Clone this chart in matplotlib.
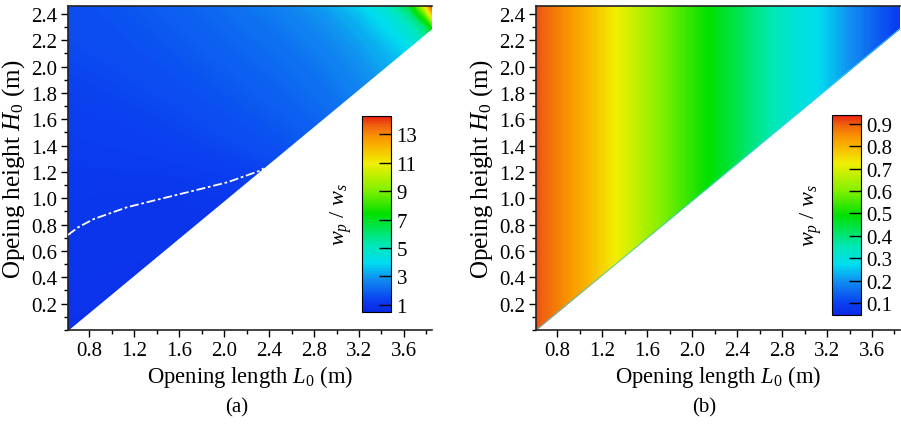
import numpy as np
import matplotlib
matplotlib.use("Agg")
import matplotlib.pyplot as plt
from matplotlib.colors import LinearSegmentedColormap, Normalize
from matplotlib.cm import ScalarMappable
from matplotlib.ticker import MultipleLocator

plt.rcParams['font.family'] = ['Liberation Serif', 'DejaVu Serif']
plt.rcParams['mathtext.fontset'] = 'custom'
plt.rcParams['mathtext.rm'] = 'Liberation Serif'
plt.rcParams['mathtext.it'] = 'Liberation Serif:italic'

# grid nodes (panel a)
L_a = [0.61, 1.0, 1.5, 2.0, 2.5, 2.9, 3.2, 3.45, 3.65, 3.78, 3.85]
H_a = [0.0, 0.6, 1.0, 1.4, 1.8, 2.1, 2.3, 2.4, 2.46]
ratio_a = [
    [0.85, 0.84, 0.85, 0.88, 0.92, 1.00, 1.05, 1.10, 1.15, 1.20, 1.20],
    [0.97, 0.93, 0.92, 0.95, 1.00, 1.10, 1.20, 1.30, 1.40, 1.50, 1.50],
    [1.06, 1.03, 1.00, 1.04, 1.20, 1.40, 1.60, 1.80, 1.90, 2.00, 2.00],
    [1.20, 1.24, 1.33, 1.48, 1.68, 1.92, 2.20, 2.45, 2.70, 2.90, 3.00],
    [1.36, 1.43, 1.56, 1.75, 2.00, 2.28, 2.60, 2.95, 3.30, 3.60, 3.80],
    [1.48, 1.56, 1.72, 1.95, 2.22, 2.55, 2.95, 3.40, 3.90, 4.50, 5.00],
    [1.55, 1.64, 1.82, 2.08, 2.40, 2.80, 3.30, 4.00, 4.90, 6.00, 7.50],
    [1.58, 1.68, 1.87, 2.15, 2.50, 2.95, 3.55, 4.40, 5.80, 8.50, 12.0],
    [1.60, 1.70, 1.90, 2.20, 2.60, 3.10, 3.80, 4.90, 6.60, 10.5, 14.0],
]

# white dash-dot curve in panel a
curve_L = [0.61, 0.70, 0.84, 1.135, 1.43, 1.73, 2.03, 2.32, 2.35]
curve_H = [0.722, 0.78, 0.843, 0.932, 0.995, 1.058, 1.122, 1.21, 1.228]

# panel b: ratio varies along the opening length
L_b = [0.61, 0.83, 1.10, 1.27, 1.53, 1.80, 2.07, 2.33, 2.60, 2.87, 3.13, 3.40, 3.67, 3.85]
H_b = [0.0, 2.46]
ratio_b = [0.91, 0.86, 0.79, 0.74, 0.66, 0.58, 0.51, 0.45, 0.38, 0.32, 0.27, 0.20, 0.13, 0.09]

# lower edge of the valid region (H0 limited by L0)
bound_L = [0.61, 3.85]
bound_H = [0.0, 2.29]

ticks_a = [1, 3, 5, 7, 9, 11, 13]
ticks_b = [0.1, 0.2, 0.3, 0.4, 0.5, 0.6, 0.7, 0.8, 0.9]

cmap = LinearSegmentedColormap.from_list("origin_rainbow", [
    (0.00, "#0a28e6"), (0.06, "#0a40f0"), (0.17, "#1090f0"),
    (0.25, "#00dcf0"), (0.34, "#00e8b8"), (0.50, "#00e000"),
    (0.62, "#80f000"), (0.76, "#f0f000"), (0.84, "#f8b800"),
    (0.90, "#f89000"), (0.955, "#f06010"), (1.00, "#e82010")])

fig = plt.figure(figsize=(9.01, 4.27), dpi=100)
ax_a = fig.add_axes([0.0755, 0.2248, 0.404, 0.7588])
ax_b = fig.add_axes([0.595, 0.2248, 0.404, 0.7588])
cax_a = fig.add_axes([0.4018, 0.267, 0.0322, 0.459])
cax_b = fig.add_axes([0.9234, 0.260, 0.0322, 0.468])


def draw_panel(ax, cax, L, H, Z, vmin, vmax, ticks, fmt):
    norm = Normalize(vmin, vmax)
    ax.contourf(L, H, Z, levels=np.linspace(vmin, vmax, 300), cmap=cmap,
                norm=norm, extend='both', zorder=1)
    ax.fill_between(bound_L, -0.1, bound_H, color='white', lw=0, zorder=1.5)
    ax.set_xlim(0.61, 3.85)
    ax.set_ylim(0.0, 2.46)
    ax.xaxis.set_minor_locator(MultipleLocator(0.2))
    ax.yaxis.set_minor_locator(MultipleLocator(0.1))
    ax.set_xticks(np.arange(0.8, 3.7, 0.4))
    ax.set_yticks(np.arange(0.2, 2.5, 0.2))
    ax.xaxis.set_major_formatter(plt.FormatStrFormatter('%.1f'))
    ax.yaxis.set_major_formatter(plt.FormatStrFormatter('%.1f'))
    ax.tick_params(which='major', direction='out', length=5, width=1, labelsize=15, pad=3)
    ax.tick_params(which='minor', direction='out', length=3, width=1)
    ax.spines['right'].set_visible(False)
    for s in ['left', 'bottom', 'top']:
        ax.spines[s].set_linewidth(1.2)
        ax.spines[s].set_color('#222222')
    ax.set_xlabel(r"Opening length $\mathit{L_0}$ (m)", fontsize=16.3, labelpad=2)
    ax.set_ylabel(r"Opeing height $\mathit{H_0}$ (m)", fontsize=18, labelpad=3)

    cb = fig.colorbar(ScalarMappable(norm=norm, cmap=cmap), cax=cax)
    cb.set_ticks(ticks)
    cb.ax.yaxis.set_major_formatter(plt.FormatStrFormatter(fmt))
    cb.outline.set_linewidth(0.8)
    cax.tick_params(direction='in', length=9, width=1, right=True, left=False,
                    labelsize=15, pad=4)
    cax.yaxis.set_label_position('left')
    cb.set_label(r"$\mathit{w_p}$ / $\mathit{w_s}$", fontsize=16, labelpad=6)


draw_panel(ax_a, cax_a, L_a, H_a, ratio_a, 0.5, 14.3, ticks_a, '%d')
ax_a.plot(curve_L, curve_H, color='white', lw=1.3,
          linestyle=(0, (5, 1.5, 1.5, 1.5)), zorder=3)

draw_panel(ax_b, cax_b, L_b, H_b, np.tile(ratio_b, (len(H_b), 1)),
           0.046, 0.94, ticks_b, '%.1f')
ax_b.plot(bound_L, bound_H, color='#40c8e8', lw=0.6, zorder=1.6)

fig.text(0.263, 0.045, '(a)', ha='center', va='center', fontsize=15)
fig.text(0.782, 0.045, '(b)', ha='center', va='center', fontsize=15)

fig.savefig("out.png", dpi=100)
